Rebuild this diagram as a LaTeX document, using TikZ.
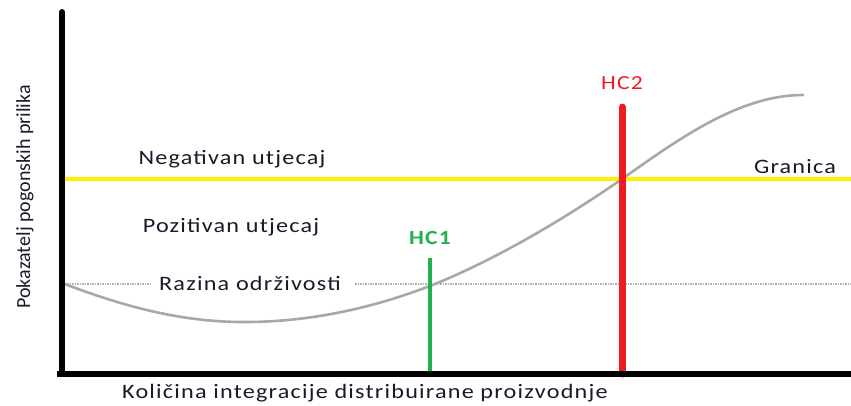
\documentclass[tikz,border=0pt]{standalone}
\usepackage{fontspec}
\setmainfont{Carlito}
\newfontfamily\widefont[LetterSpace=5]{Carlito}
\newcommand{\wtxt}[1]{\scalebox{1.18}[1]{#1}}
\definecolor{ylw}{HTML}{FFF200}
\definecolor{grn}{HTML}{22B14C}
\definecolor{rd}{HTML}{ED1C24}
\definecolor{crv}{HTML}{A8A8A8}
\definecolor{txt}{HTML}{1A1A2A}
\begin{document}
\begin{tikzpicture}[x=1pt,y=-1pt,
  lbl/.style={font=\widefont\fontsize{20.5}{24}\selectfont, text=txt, inner sep=0pt},
  axis/.style={line width=6pt, black},
  hc/.style={font=\widefont\fontsize{20}{24}\selectfont, inner sep=0pt}]
\useasboundingbox (0,0) rectangle (851,405);
% level lines
\coordinate (y0) at (62,179);
\coordinate (y1) at (851,179);
\draw[line width=4.5pt, ylw] (y0) -- (y1);
\node[lbl] (raz) at (250,283) {\wtxt{Razina održivosti}};
\coordinate (d0) at (62,284);
\coordinate (d1) at (851,284);
\draw[line width=1.3pt, crv!85, dash pattern=on 1.5pt off 1pt] (d0) -- (150,284);
\draw[line width=1.3pt, crv!85, dash pattern=on 1.5pt off 1pt] (355,284) -- (d1);
% curve
\draw[line width=2.6pt, crv, line cap=round]
  (62,283) .. controls (120,305) and (180,323) .. (250,322)
  .. controls (320,321) and (380,305) .. (430,286)
  .. controls (500,258) and (570,215) .. (622,179)
  .. controls (680,138) and (740,95) .. (803,95);
% HC lines
\coordinate (g0) at (430,258);
\coordinate (g1) at (430,374);
\draw[line width=4pt, grn] (g0) -- (g1);
\coordinate (r0) at (622,107);
\coordinate (r1) at (622,374);
\draw[line width=7pt, rd, line cap=round] (r0) -- (r1);
\draw[line width=7pt, rd] (622,150) -- (r1);
\node[hc, text=grn, font=\widefont\fontsize{20}{24}\selectfont\bfseries] (hc1) at (430,238) {\wtxt{HC1}};
\node[hc, text=rd] (hc2) at (622,83) {\wtxt{HC2}};
% labels
\node[lbl] (neg) at (232,159) {\wtxt{Negativan utjecaj}};
\node[lbl] (poz) at (231,227) {\wtxt{Pozitivan utjecaj}};
\node[lbl] (gra) at (795,167) {\wtxt{Granica}};
\node[lbl] (xl) at (365,393) {\wtxt{Količina integracije distribuirane proizvodnje}};
\node[font=\fontsize{20}{24}\selectfont, text=txt, inner sep=0pt, rotate=90] (yl) at (25,197) {Pokazatelj pogonskih prilika};
% axes
\coordinate (o) at (62,374);
\coordinate (top) at (62,12);
\coordinate (xe) at (851,374);
\draw[axis, line cap=round] (top) -- (62,300);
\draw[axis] (62,300) -- (o) -- (xe);
\draw[line width=6pt] (57,374) -- (o);
\end{tikzpicture}
\end{document}
